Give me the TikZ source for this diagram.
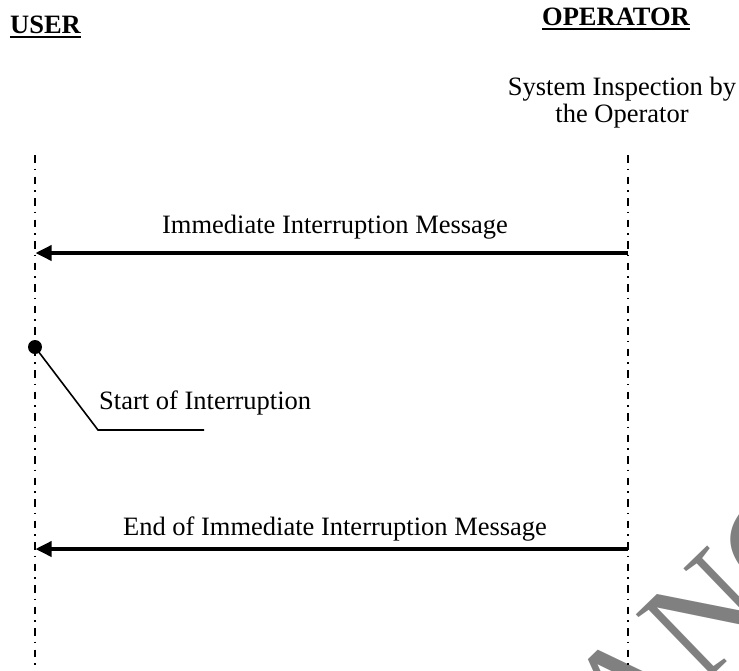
\documentclass[tikz,border=0pt]{standalone}
\usepackage{fontspec}
\setmainfont{Liberation Serif}
\usetikzlibrary{arrows.meta}
\definecolor{wmgray}{HTML}{808080}
\begin{document}
\begin{tikzpicture}[x=1pt,y=-1pt,
  lbl/.style={inner sep=0pt, font=\fontsize{26.5}{27}\selectfont},
  hdr/.style={inner sep=0pt, font=\fontsize{26.5}{27}\selectfont\bfseries},
  lifeline/.style={line width=1.3pt, dash pattern=on 7.5pt off 6pt on 1.5pt off 6.5pt},
  msg/.style={line width=3.5pt, -{Triangle[length=16pt,width=15pt]}},
  ul/.style={line width=2.5pt},
  lead/.style={line width=1.6pt},
  watermark/.style={rotate=44, anchor=base west, inner sep=0pt, text=wmgray, font=\fontsize{148}{148}\selectfont}]
\useasboundingbox (0,0) rectangle (739,670);
\begin{scope}
\clip (0,0) rectangle (739,670);
\node[watermark] (wm) at (623,762) {ANC};
\end{scope}
% headers
\node[hdr, anchor=base west] (user) at (10,33) {USER};
\draw[ul] ([yshift=-4pt]user.base west) -- ([yshift=-4pt]user.base east);
\node[hdr, anchor=base] (oper) at (616,25) {OPERATOR};
\draw[ul] ([yshift=-4pt]oper.base west) -- ([yshift=-4pt]oper.base east);
\node[lbl, align=center, anchor=north] (sys) at (622,77) {System Inspection by\\the Operator};
% lifelines
\coordinate (uTop) at (35,155); \coordinate (uBot) at (35,670);
\coordinate (oTop) at (628,155); \coordinate (oBot) at (628,670);
\draw[lifeline] (uTop) -- (uBot);
\draw[lifeline] (oTop) -- (oBot);
% message 1
\coordinate (o1) at (628,253); \coordinate (u1) at (35.5,253);
\draw[msg] (o1) -- (u1);
\node[lbl, anchor=base] (m1) at (335,233) {Immediate Interruption Message};
% start of interruption
\node[circle, fill, inner sep=0pt, minimum size=14pt] (start) at (35,347) {};
\coordinate (bend) at (98,430); \coordinate (leadEnd) at (204,430);
\draw[lead] (start.center) -- (bend) -- (leadEnd);
\node[lbl, anchor=base west] (startlbl) at (99,409) {Start of Interruption};
% message 2
\coordinate (o2) at (628,549); \coordinate (u2) at (35.5,549);
\draw[msg] (o2) -- (u2);
\node[lbl, anchor=base] (m2) at (335,535) {End of Immediate Interruption Message};
\end{tikzpicture}
\end{document}
